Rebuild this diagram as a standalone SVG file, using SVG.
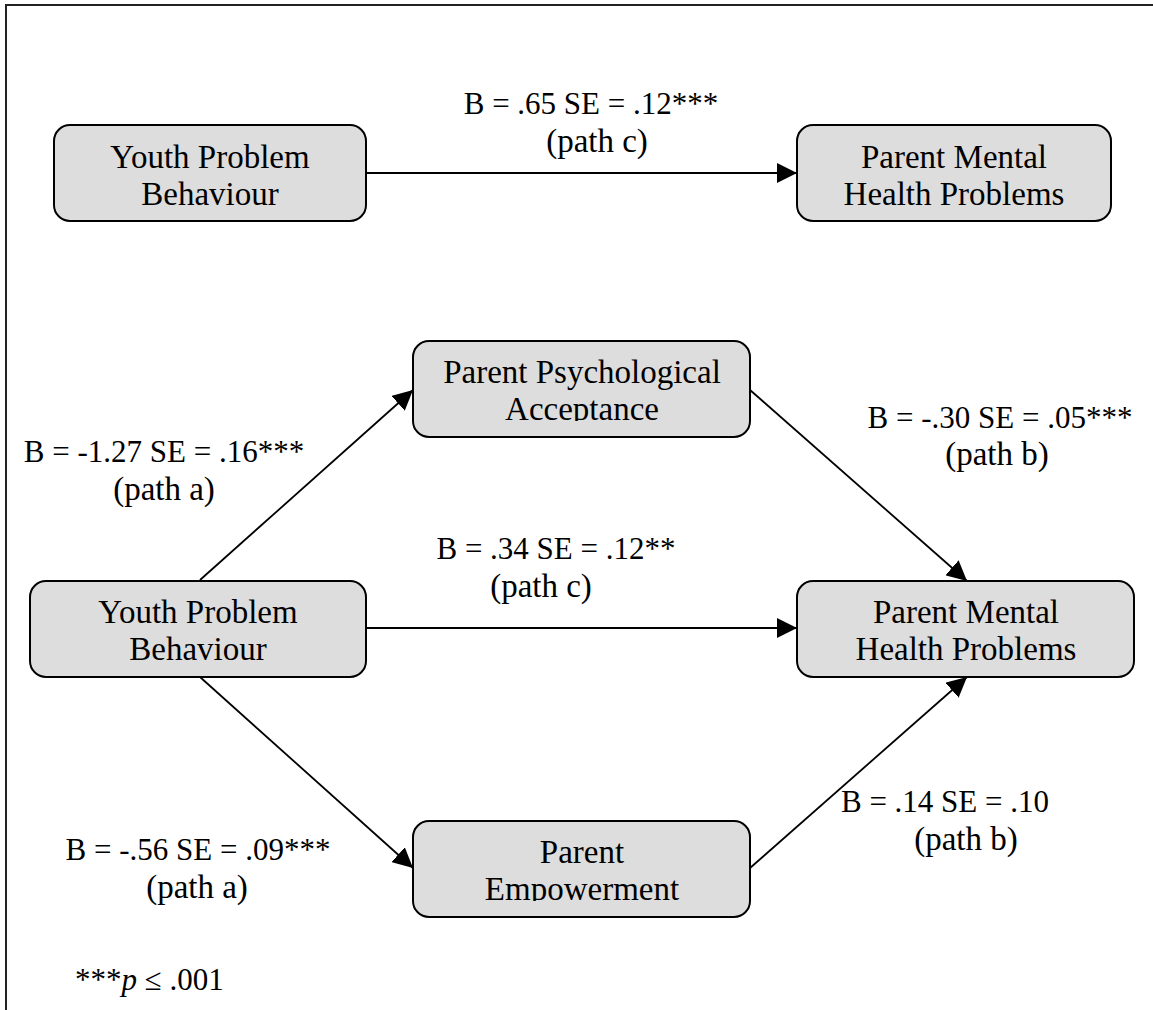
<svg xmlns="http://www.w3.org/2000/svg" width="1153" height="1010" viewBox="0 0 1153 1010">
<style>
.box{fill:#dddddd;stroke:#000;stroke-width:2}
.t{font-family:"Liberation Serif","Times New Roman",serif;font-size:33px;fill:#000;text-anchor:middle}
.lb{font-family:"Liberation Serif","Times New Roman",serif;font-size:31px;fill:#000;text-anchor:middle}
.pl{font-family:"Liberation Serif","Times New Roman",serif;font-size:33px;fill:#000;text-anchor:middle}
.fn{font-family:"Liberation Serif","Times New Roman",serif;font-size:31px;fill:#000}
.edge{stroke:#000;stroke-width:1.8;fill:none;marker-end:url(#arr)}
.frame{stroke:#222;stroke-width:2;fill:none}
</style>
<defs>
<marker id="arr" markerUnits="userSpaceOnUse" markerWidth="20" markerHeight="20" refX="20" refY="10" orient="auto">
<path d="M0,0 L20,10 L0,20 Z" fill="#000"/>
</marker>
<clipPath id="clipAcc"><rect x="413" y="341" width="337" height="80"/></clipPath>
<clipPath id="clipEmp"><rect x="413" y="821" width="337" height="80"/></clipPath>
</defs>
<rect width="1153" height="1010" fill="#fff"/>
<g id="frame">
<path class="frame" d="M5,5 H1153 M6,5 V1010"/>
</g>
<g id="connectors">
<line class="edge" x1="366" y1="173" x2="797" y2="173"/>
<line class="edge" x1="366" y1="628" x2="797" y2="628"/>
<line class="edge" x1="200" y1="580" x2="413" y2="390"/>
<line class="edge" x1="750" y1="390" x2="967" y2="581"/>
<line class="edge" x1="200" y1="677" x2="413" y2="868"/>
<line class="edge" x1="750" y1="868" x2="967" y2="677"/>
</g>
<g id="node-youth-top">
<rect class="box" x="54" y="125" width="312" height="96" rx="16"/>
<text class="t" x="210" y="168">Youth Problem</text>
<text class="t" x="210" y="205">Behaviour</text>
</g>
<g id="node-pmhp-top">
<rect class="box" x="797" y="125" width="314" height="96" rx="16"/>
<text class="t" x="954" y="168">Parent Mental</text>
<text class="t" x="954" y="205">Health Problems</text>
</g>
<g id="node-acceptance">
<rect class="box" x="413" y="341" width="337" height="96" rx="16"/>
<g clip-path="url(#clipAcc)">
<text class="t" x="582" y="383">Parent Psychological</text>
<text class="t" x="582" y="420">Acceptance</text>
</g>
</g>
<g id="node-youth">
<rect class="box" x="30" y="581" width="336" height="96" rx="16"/>
<text class="t" x="198" y="623">Youth Problem</text>
<text class="t" x="198" y="660">Behaviour</text>
</g>
<g id="node-pmhp">
<rect class="box" x="797" y="581" width="337" height="96" rx="16"/>
<text class="t" x="966" y="623">Parent Mental</text>
<text class="t" x="966" y="660">Health Problems</text>
</g>
<g id="node-empowerment">
<rect class="box" x="413" y="821" width="337" height="96" rx="16"/>
<g clip-path="url(#clipEmp)">
<text class="t" x="582" y="863">Parent</text>
<text class="t" x="582" y="900">Empowerment</text>
</g>
</g>
<g id="labels">
<text class="lb" x="591" y="114">B = .65 SE = .12***</text>
<text class="pl" x="597" y="152">(path c)</text>
<text class="lb" x="556" y="559">B = .34 SE = .12**</text>
<text class="pl" x="541" y="597">(path c)</text>
<text class="lb" x="164" y="462">B = -1.27 SE = .16***</text>
<text class="pl" x="164" y="500">(path a)</text>
<text class="lb" x="1000" y="428">B = -.30 SE = .05***</text>
<text class="pl" x="997" y="465">(path b)</text>
<text class="lb" x="198" y="860">B = -.56 SE = .09***</text>
<text class="pl" x="197" y="898">(path a)</text>
<text class="lb" x="945" y="812">B = .14 SE = .10</text>
<text class="pl" x="966" y="850">(path b)</text>
<text class="fn" x="75" y="990">***<tspan font-style="italic">p</tspan> ≤ .001</text>
</g>
</svg>
